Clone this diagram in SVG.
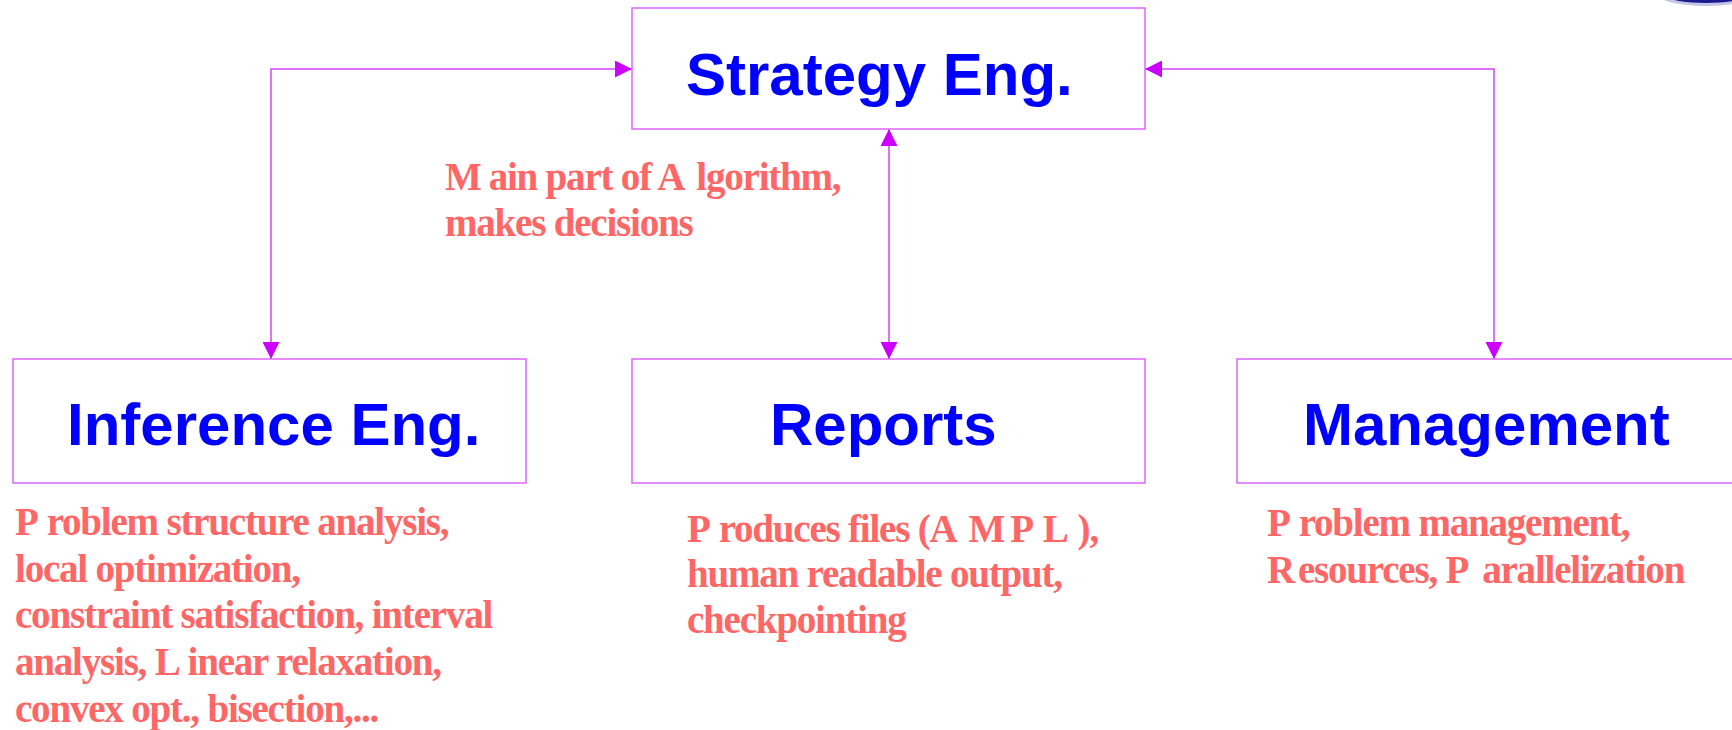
<svg xmlns="http://www.w3.org/2000/svg" width="1732" height="730" viewBox="0 0 1732 730">
  <style>
    .box { fill: #FFFFFF; stroke: #DD66FF; stroke-width: 1.5; }
    .title { font-family: "Liberation Sans", Arial, sans-serif; font-weight: bold; font-size: 60px; fill: #0000FF; }
    .note { font-family: "Liberation Serif", "Times New Roman", serif; font-weight: bold; font-size: 39px; letter-spacing: -1.2px; fill: #FF6666; }
    .link { fill: none; stroke: #D244FF; stroke-width: 1.5; }
  </style>
  <defs>
    <marker id="arrow" viewBox="0 0 17 17" refX="17" refY="8.5" markerWidth="17" markerHeight="17" markerUnits="userSpaceOnUse" orient="auto-start-reverse">
      <path d="M0,0 L17,8.5 L0,17 z" fill="#CC00FF"/>
    </marker>
  </defs>
  <rect width="1732" height="730" fill="#FFFFFF"/>

  <!-- corner logo fragment -->
  <g id="logo-fragment">
    <ellipse cx="1706" cy="-3" rx="44" ry="9" fill="#C4C4E6"/>
    <ellipse cx="1706" cy="-3" rx="36" ry="6" fill="#1A1A90"/>
  </g>

  <!-- connectors -->
  <g id="connectors">
    <path class="link" d="M632,69 H271 V359" marker-start="url(#arrow)" marker-end="url(#arrow)"/>
    <path class="link" d="M889,129 V359" marker-start="url(#arrow)" marker-end="url(#arrow)"/>
    <path class="link" d="M1145,69 H1494 V359" marker-start="url(#arrow)" marker-end="url(#arrow)"/>
  </g>

  <g id="strategy">
    <rect class="box" x="632" y="8" width="513" height="121"/>
    <text class="title" x="686" y="95">Strategy Eng.</text>
    <text class="note" x="445" y="190">M<tspan dx="8">ain part of A</tspan><tspan dx="12">lgorithm,</tspan></text>
    <text class="note" x="445" y="236">makes decisions</text>
  </g>

  <g id="inference">
    <rect class="box" x="13" y="359" width="513" height="124"/>
    <text class="title" x="67" y="445">Inference Eng.</text>
    <text class="note" x="15" y="535">P<tspan dx="9">roblem structure analysis,</tspan></text>
    <text class="note" x="15" y="582">local optimization,</text>
    <text class="note" x="15" y="628">constraint satisfaction, interval</text>
    <text class="note" x="15" y="675">analysis, L<tspan dx="8">inear relaxation,</tspan></text>
    <text class="note" x="15" y="722">convex opt., bisection,...</text>
  </g>

  <g id="reports">
    <rect class="box" x="632" y="359" width="513" height="124"/>
    <text class="title" x="770" y="445">Reports</text>
    <text class="note" x="687" y="542">P<tspan dx="9">roduces files (A</tspan><tspan dx="12">M</tspan><tspan dx="6">P</tspan><tspan dx="10">L</tspan><tspan dx="10">),</tspan></text>
    <text class="note" x="687" y="587">human readable output,</text>
    <text class="note" x="687" y="633">checkpointing</text>
  </g>

  <g id="management">
    <rect class="box" x="1237" y="359" width="513" height="124"/>
    <text class="title" x="1303" y="445">Management</text>
    <text class="note" x="1267" y="536">P<tspan dx="9">roblem management,</tspan></text>
    <text class="note" x="1267" y="583">R<tspan dx="4">esources, P</tspan><tspan dx="14">arallelization</tspan></text>
  </g>
</svg>
